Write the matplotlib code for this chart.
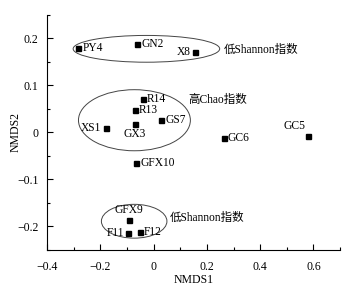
import matplotlib.pyplot as plt
from matplotlib.patches import Ellipse
from matplotlib.ticker import MultipleLocator

plt.rcParams['font.family'] = ['Liberation Serif', 'Noto Sans CJK SC']
plt.rcParams['axes.unicode_minus'] = True

# sample scores
samples = ['PY4', 'GN2', 'X8', 'R14', 'R13', 'GS7', 'XS1', 'GX3',
           'GC6', 'GC5', 'GFX10', 'GFX9', 'F11', 'F12']
nmds1 = [-0.282, -0.062, 0.154, -0.041, -0.070, 0.028, -0.180, -0.071,
         0.263, 0.579, -0.065, -0.091, -0.095, -0.052]
nmds2 = [0.180, 0.188, 0.172, 0.071, 0.047, 0.026, 0.010, 0.018,
         -0.011, -0.007, -0.066, -0.187, -0.214, -0.211]

# label offsets (points) and alignment per sample
label_pos = {
    'PY4': (3, 0, 'left', 'center'), 'GN2': (3, 0, 'left', 'center'),
    'X8': (-3, 0, 'right', 'center'), 'R14': (3, 0, 'left', 'center'),
    'R13': (3, 0, 'left', 'center'), 'GS7': (3, 0, 'left', 'center'),
    'XS1': (-3, 0, 'right', 'center'), 'GX3': (0, -3, 'center', 'top'),
    'GC6': (3, 0, 'left', 'center'), 'GC5': (-2, 3, 'right', 'bottom'),
    'GFX10': (3, 0, 'left', 'center'), 'GFX9': (0, 3, 'center', 'bottom'),
    'F11': (-3, 0, 'right', 'center'), 'F12': (3, 0, 'left', 'center'),
}

# group ellipses: centre, width, height
groups = [((-0.027, 0.178), 0.55, 0.057),
          ((-0.072, 0.026), 0.42, 0.130),
          ((-0.073, -0.189), 0.246, 0.072)]
group_text = ['低Shannon指数', '高Chao指数', '低Shannon指数']
group_text_xy = [(0.263, 0.176), (0.131, 0.069), (0.06, -0.181)]

fig = plt.figure(figsize=(3.51, 2.94), dpi=100)
ax = fig.add_axes([0.134, 0.150, 0.835, 0.799])

ax.plot(nmds1, nmds2, 's', color='black', ms=3.6, ls='none')
for name, x, y in zip(samples, nmds1, nmds2):
    dx, dy, ha, va = label_pos[name]
    ax.annotate(name, (x, y), xytext=(dx, dy), textcoords='offset points',
                ha=ha, va=va, fontsize=8.3)

for (c, w, h) in groups:
    ax.add_patch(Ellipse(c, w, h, fill=False, edgecolor='#444444', lw=0.7))
for t, (x, y) in zip(group_text, group_text_xy):
    ax.text(x, y, t, ha='left', va='center', fontsize=8.3)

ax.set_xlim(-0.4, 0.7)
ax.set_ylim(-0.25, 0.25)
ax.set_xticks([-0.4, -0.2, 0, 0.2, 0.4, 0.6])
ax.set_xticklabels(['\u22120.4', '\u22120.2', '0', '0.2', '0.4', '0.6'])
ax.set_yticks([-0.2, -0.1, 0, 0.1, 0.2])
ax.set_yticklabels(['\u22120.2', '\u22120.1', '0', '0.1', '0.2'])
ax.xaxis.set_minor_locator(MultipleLocator(0.1))
ax.yaxis.set_minor_locator(MultipleLocator(0.05))
ax.tick_params(which='both', direction='in', labelsize=8.5)
ax.tick_params(which='major', length=4, width=0.8)
ax.tick_params(which='minor', length=2.5, width=0.8)
ax.tick_params(axis='x', which='major', pad=8)
ax.tick_params(axis='y', which='major', pad=6)
ax.spines['top'].set_visible(False)
ax.spines['right'].set_visible(False)
ax.set_xlabel('NMDS1', fontsize=8.5, va='center')
ax.set_ylabel('NMDS2', fontsize=8.5, va='center')
ax.xaxis.set_label_coords(0.5, -0.128)
ax.yaxis.set_label_coords(-0.107, 0.5)

fig.savefig('out.png', dpi=100)
